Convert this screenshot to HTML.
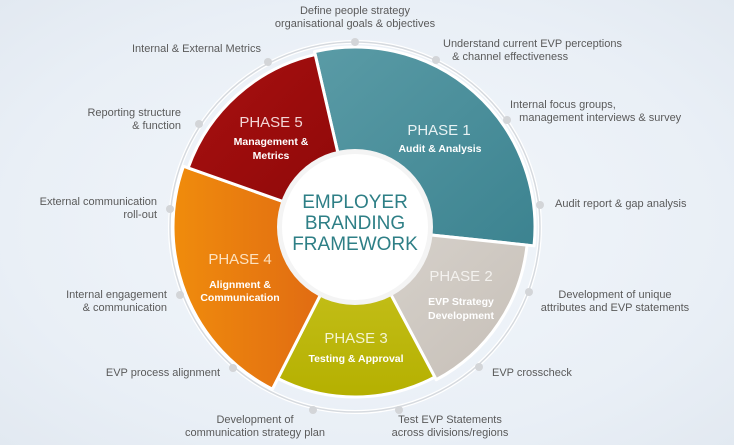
<!DOCTYPE html>
<html><head><meta charset="utf-8"><style>
html,body{margin:0;padding:0}
body{width:734px;height:445px;overflow:hidden;background:radial-gradient(ellipse at 50% 50%,#f3f7fb 0%,#e9eff6 70%,#e2e9f1 100%);font-family:"Liberation Sans",sans-serif;position:relative}
.l{position:absolute;font-size:11px;color:#5a5a5a;line-height:13px;white-space:nowrap}
.r{text-align:right}.c{text-align:center}
</style></head><body>
<svg width="734" height="445" style="position:absolute;left:0;top:0">
<defs>
<linearGradient id="g1" x1="0" y1="0" x2="1" y2="1"><stop offset="0" stop-color="#5a9ba6"/><stop offset="1" stop-color="#3c8390"/></linearGradient>
<linearGradient id="g2" x1="0" y1="0" x2="1" y2="1"><stop offset="0" stop-color="#d8d3cd"/><stop offset="1" stop-color="#c6bfb7"/></linearGradient>
<linearGradient id="g3" x1="0" y1="0" x2="0" y2="1"><stop offset="0" stop-color="#cac525"/><stop offset="1" stop-color="#b5b000"/></linearGradient>
<linearGradient id="g4" x1="0" y1="0" x2="1" y2="0"><stop offset="0" stop-color="#f08c0c"/><stop offset="1" stop-color="#dd6414"/></linearGradient>
<linearGradient id="g5" x1="0" y1="0" x2="1" y2="1"><stop offset="0" stop-color="#a81010"/><stop offset="1" stop-color="#8c0808"/></linearGradient>
</defs>
<circle cx="355" cy="227" r="185" fill="none" stroke="#ffffff" stroke-width="4"/>
<circle cx="355" cy="227" r="185" fill="none" stroke="#d6dadf" stroke-width="1.5"/>
<g stroke="#fff" stroke-width="3" stroke-linejoin="round">
<path id="p1" fill="url(#g1)"/>
<path id="p2" fill="url(#g2)"/>
<path id="p3" fill="url(#g3)"/>
<path id="p4" fill="url(#g4)"/>
<path id="p5" fill="url(#g5)"/>
</g>
<circle cx="355" cy="227" r="78" fill="#f4f4f4"/>
<circle cx="355" cy="227" r="73" fill="#ffffff"/>
<g fill="#d3d5d8">
<circle cx="355" cy="42" r="4"/><circle cx="436" cy="60" r="4"/><circle cx="507" cy="120" r="4"/><circle cx="540" cy="205" r="4"/><circle cx="529" cy="292" r="4"/><circle cx="479" cy="367" r="4"/><circle cx="399" cy="410" r="4"/><circle cx="313" cy="410" r="4"/><circle cx="233" cy="368" r="4"/><circle cx="180" cy="295" r="4"/><circle cx="170" cy="209" r="4"/><circle cx="199" cy="124" r="4"/><circle cx="268" cy="62" r="4"/>
</g>
<g font-family="Liberation Sans, sans-serif" text-anchor="middle">
<text x="355" y="208" font-size="19" fill="#2e7f86">EMPLOYER</text>
<text x="355" y="229" font-size="19" fill="#2e7f86">BRANDING</text>
<text x="355" y="250" font-size="19" fill="#2e7f86">FRAMEWORK</text>
<text x="439" y="135" font-size="15" fill="#e8f2f3">PHASE 1</text>
<text x="440" y="152" font-size="10.5" font-weight="bold" fill="#fff">Audit &amp; Analysis</text>
<text x="461" y="281" font-size="15" fill="#f3f1ee">PHASE 2</text>
<text x="461" y="305" font-size="10.5" font-weight="bold" fill="#fff">EVP Strategy</text>
<text x="461" y="319" font-size="10.5" font-weight="bold" fill="#fff">Development</text>
<text x="356" y="343" font-size="15" fill="#f4f4d0">PHASE 3</text>
<text x="356" y="362" font-size="10.5" font-weight="bold" fill="#fff">Testing &amp; Approval</text>
<text x="240" y="264" font-size="15" fill="#fde2c0">PHASE 4</text>
<text x="240" y="288" font-size="10.5" font-weight="bold" fill="#fff">Alignment &amp;</text>
<text x="240" y="301" font-size="10.5" font-weight="bold" fill="#fff">Communication</text>
<text x="271" y="127" font-size="15" fill="#f3d6d6">PHASE 5</text>
<text x="271" y="145" font-size="10.5" font-weight="bold" fill="#fff">Management &amp;</text>
<text x="271" y="159" font-size="10.5" font-weight="bold" fill="#fff">Metrics</text>
</g>
</svg>
<div class="l c" style="left:255px;top:5px;width:200px">Define people strategy<br>organisational goals &amp; objectives</div>
<div class="l" style="left:443px;top:38px">Understand current EVP perceptions<br>&nbsp;&nbsp;&nbsp;&amp; channel effectiveness</div>
<div class="l" style="left:510px;top:99px">Internal focus groups,<br>&nbsp;&nbsp;&nbsp;management interviews &amp; survey</div>
<div class="l" style="left:555px;top:198px">Audit report &amp; gap analysis</div>
<div class="l c" style="left:540px;top:289px;width:150px">Development of unique<br>attributes and EVP statements</div>
<div class="l" style="left:492px;top:367px">EVP crosscheck</div>
<div class="l c" style="left:380px;top:414px;width:140px">Test EVP Statements<br>across divisions/regions</div>
<div class="l c" style="left:185px;top:414px;width:140px">Development of<br>communication strategy plan</div>
<div class="l r" style="left:60px;top:367px;width:160px">EVP process alignment</div>
<div class="l r" style="left:20px;top:289px;width:147px">Internal engagement<br>&amp; communication</div>
<div class="l r" style="left:10px;top:196px;width:147px">External communication<br>roll-out</div>
<div class="l r" style="left:30px;top:107px;width:151px">Reporting structure<br>&amp; function</div>
<div class="l" style="left:132px;top:43px">Internal &amp; External Metrics</div>
<script>
function arc(id,a0,a1,r){var cx=355,cy=227,t=Math.PI/180;
var x0=cx+r*Math.cos(a0*t),y0=cy+r*Math.sin(a0*t),x1=cx+r*Math.cos(a1*t),y1=cy+r*Math.sin(a1*t);
var lg=(a1-a0)>180?1:0;
document.getElementById(id).setAttribute('d','M'+cx+' '+cy+'L'+x0+' '+y0+'A'+r+' '+r+' 0 '+lg+' 1 '+x1+' '+y1+'Z');}
arc('p1',-103,6,180);arc('p2',6,62,173);arc('p3',62,117,170);arc('p4',117,199.5,182);arc('p5',199.5,257,177);
</script>
</body></html>
